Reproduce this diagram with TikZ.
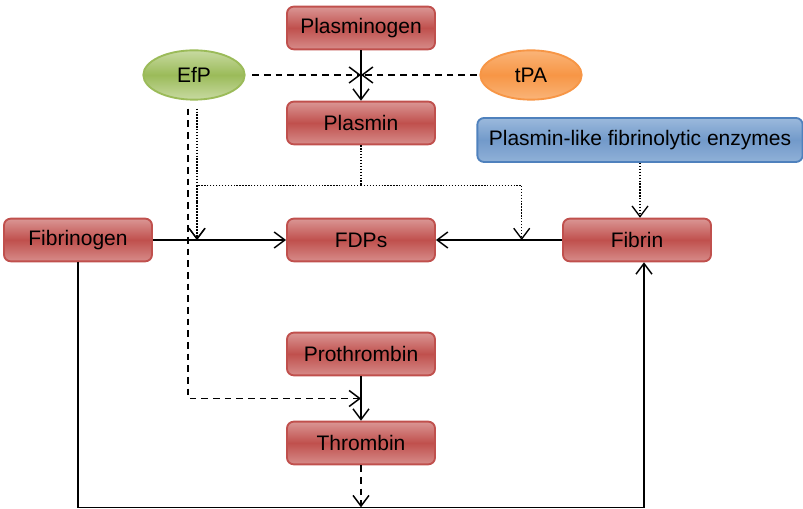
\documentclass[tikz,border=0pt]{standalone}
\usepackage{fontspec}
\setmainfont{Liberation Sans}
\usetikzlibrary{shapes.geometric,arrows.meta,calc}
\definecolor{boxred}{RGB}{192,80,77}
\definecolor{boxredlight}{RGB}{218,150,148}
\definecolor{efpgreen}{RGB}{155,187,89}
\definecolor{efpgreenlight}{RGB}{200,218,162}
\definecolor{tpaorange}{RGB}{247,150,70}
\definecolor{tpaorangelight}{RGB}{250,180,120}
\definecolor{enzblue}{RGB}{79,129,189}
\definecolor{enzbluelight}{RGB}{155,185,220}

\begin{document}
\begin{tikzpicture}
  [x=0.75pt, y=-0.75pt,
   every node/.style={font=\fontsize{15.75}{18}\selectfont, inner sep=2pt},
   redbox/.style={draw=boxred, line width=1.4pt, rounded corners=5pt, minimum width=111pt, minimum height=32pt,
                  top color=boxredlight, bottom color=boxredlight!85!boxred, middle color=boxred},
   bluebox/.style={draw=enzblue, line width=1.4pt, rounded corners=5pt, minimum width=244pt, minimum height=33pt,
                   top color=enzbluelight, bottom color=enzbluelight!85!enzblue, middle color=enzblue!80!white},
   greenoval/.style={ellipse, draw=efpgreen, line width=1.4pt, minimum width=76pt, minimum height=37pt, inner sep=0pt,
                     top color=efpgreenlight, bottom color=efpgreenlight, middle color=efpgreen},
   orangeoval/.style={ellipse, draw=tpaorange, line width=1.4pt, minimum width=76pt, minimum height=37pt, inner sep=0pt,
                      top color=tpaorangelight, bottom color=tpaorangelight, middle color=tpaorange},
   link/.style={line width=1.1pt, -{Straight Barb[length=8pt,width=12pt]}},
   dashlink/.style={link, dash pattern=on 5pt off 3.75pt},
   dotlink/.style={link, line width=1pt, dash pattern=on 1pt off 1.2pt}]
  \useasboundingbox (0,0) rectangle (803,509);

  \node[redbox] (plasminogen) at (361,28) {Plasminogen};
  \node[redbox] (plasmin) at (361,123) {Plasmin};
  \node[greenoval] (efp) at (194,75) {EfP};
  \node[orangeoval] (tpa) at (531,75) {tPA};
  \node[bluebox] (enzymes) at (640,140) {Plasmin-like fibrinolytic enzymes};
  \node[redbox] (fibrinogen) at (78,240) {Fibrinogen};
  \node[redbox] (fdps) at (361,240) {FDPs};
  \node[redbox] (fibrin) at (637,240) {Fibrin};
  \node[redbox] (prothrombin) at (361,354) {Prothrombin};
  \node[redbox] (thrombin) at (361,443) {Thrombin};

  \coordinate (hub) at (plasminogen |- efp);
  \coordinate (efpdash) at ($(efp.south)+(-6,8)$);
  \coordinate (efpdot) at ($(efp.south)+(3,8)$);
  \coordinate (split) at ($(plasmin.south)+(0,40)$);
  \coordinate (fibin) at ($(fdps.east)!0.68!(fibrin.west)$);
  \coordinate (thrin) at ($(prothrombin.south)!0.5!(thrombin.north)$);
  \coordinate (loop) at ($(thrombin.south)+(0,42)$);
  \coordinate (fibrinend) at ($(fibrin.south)+(7,0)$);

  \draw[link] (plasminogen) -- (plasmin);
  \draw[dashlink, shorten <=5pt] (efp) -- (hub);
  \draw[dashlink, shorten <=2pt] (tpa) -- (hub);

  \draw[line width=1pt, dash pattern=on 1pt off 1.2pt] (plasmin) -- (split);
  \draw[dotlink] (split) -| (efpdot |- fdps);
  \draw[dotlink] (split) -| (fibin);
  \draw[dotlink] (efpdot) -- (efpdot |- fdps);
  \draw[dotlink] (enzymes.south) -- (enzymes.south |- fibrin.north);

  \draw[link] (fibrinogen) -- (fdps);
  \draw[link] (fibrin) -- (fdps);

  \draw[dashlink] (efpdash) |- (thrin);
  \draw[link] (prothrombin) -- (thrombin);
  \draw[dashlink] (thrombin) -- (loop);
  \draw[link] (fibrinogen) |- (loop) -| (fibrinend);
\end{tikzpicture}
\end{document}
